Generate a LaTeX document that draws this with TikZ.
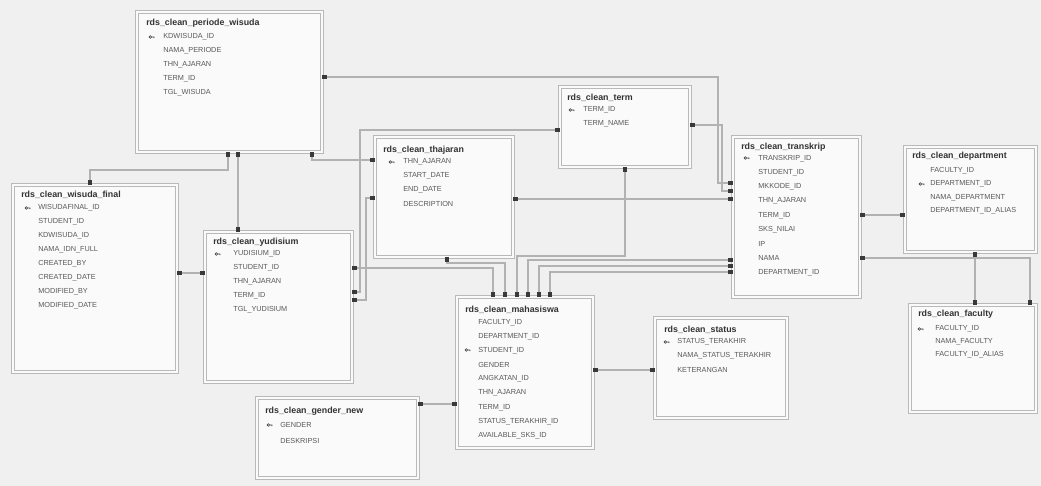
\documentclass[tikz,border=0pt]{standalone}
\usepackage{fontspec}
\setsansfont{Liberation Sans}
\usepackage{tikz}
\usetikzlibrary{arrows.meta,positioning,fit,calc}

\tikzset{
  tbl/.style={draw=gray!55, line width=0.45pt, double=gray!4, double distance=1.4pt, fill=gray!4, inner sep=0pt},
  ttl/.style={anchor=west, inner sep=0pt, font=\sffamily\bfseries\fontsize{6.3}{7}\selectfont, text=black!80},
  fld/.style={anchor=west, inner sep=0pt, font=\sffamily\fontsize{5.2}{6}\selectfont, text=gray!70!black},
  rel/.style={draw=gray!60, line width=0.8pt,
    {Square[length=3pt,width=2.6pt,color=gray!45!black]}-{Square[length=3pt,width=2.6pt,color=gray!45!black]}},
  kunci/.pic={\draw[gray!50!black, line width=0.4pt] (-1.6,0) circle[radius=0.9pt] (-0.4,0) -- (2,0) -- (2,1.2);}
}

\begin{document}
\begin{tikzpicture}[x=0.025cm, y=-0.025cm]

% scanned page
\fill[gray!12] (0,0) rectangle (1041,486);
\useasboundingbox (0,0) rectangle (1041,486);

% rds_clean_periode_wisuda
\node[tbl, fit={(137,12) (322,152)}] (pw) {};
\node[ttl] (pwT) at (146,23) {rds\_clean\_periode\_wisuda};
\foreach \f [count=\i] in {KDWISUDA\_ID, NAMA\_PERIODE, THN\_AJARAN, TERM\_ID, TGL\_WISUDA}
  \node[fld] (pw\i) at (163,23+14*\i) {\f};
\pic at (152,37) {kunci};

% rds_clean_wisuda_final
\node[tbl, fit={(13,185) (177,372)}] (wf) {};
\node[ttl] (wfT) at (21,195) {rds\_clean\_wisuda\_final};
\foreach \f [count=\i] in {WISUDAFINAL\_ID, STUDENT\_ID, KDWISUDA\_ID, NAMA\_IDN\_FULL, CREATED\_BY, CREATED\_DATE, MODIFIED\_BY, MODIFIED\_DATE}
  \node[fld] (wf\i) at (38,194+14*\i) {\f};
\pic at (28,208) {kunci};

% rds_clean_yudisium
\node[tbl, fit={(205,232) (352,382)}] (yu) {};
\node[ttl] (yuT) at (213,242) {rds\_clean\_yudisium};
\foreach \f [count=\i] in {YUDISIUM\_ID, STUDENT\_ID, THN\_AJARAN, TERM\_ID, TGL\_YUDISIUM}
  \node[fld] (yu\i) at (233,240+14*\i) {\f};
\pic at (218,254) {kunci};

% rds_clean_thajaran
\node[tbl, fit={(375,137) (513,257)}] (th) {};
\node[ttl] (thT) at (383,150) {rds\_clean\_thajaran};
\foreach \f [count=\i] in {THN\_AJARAN, START\_DATE, END\_DATE, DESCRIPTION}
  \node[fld] (th\i) at (403,148+14*\i) {\f};
\pic at (392,162) {kunci};

% rds_clean_term
\node[tbl, fit={(560,87) (690,167)}] (te) {};
\node[ttl] (teT) at (567,98) {rds\_clean\_term};
\foreach \f [count=\i] in {TERM\_ID, TERM\_NAME}
  \node[fld] (te\i) at (583,96+14*\i) {\f};
\pic at (572,110) {kunci};

% rds_clean_transkrip
\node[tbl, fit={(733,137) (860,297)}] (tr) {};
\node[ttl] (trT) at (741,147) {rds\_clean\_transkrip};
\foreach \f [count=\i] in {TRANSKRIP\_ID, STUDENT\_ID, MKKODE\_ID, THN\_AJARAN, TERM\_ID, SKS\_NILAI, IP, NAMA, DEPARTMENT\_ID}
  \node[fld] (tr\i) at (758,144+14.3*\i) {\f};
\pic at (747,158) {kunci};

% rds_clean_department
\node[tbl, fit={(905,147) (1036,252)}] (dp) {};
\node[ttl] (dpT) at (912,156) {rds\_clean\_department};
\foreach \f [count=\i] in {FACULTY\_ID, DEPARTMENT\_ID, NAMA\_DEPARTMENT, DEPARTMENT\_ID\_ALIAS}
  \node[fld] (dp\i) at (930,157+13.5*\i) {\f};
\pic at (922,184) {kunci};

% rds_clean_faculty
\node[tbl, fit={(910,305) (1036,412)}] (fa) {};
\node[ttl] (faT) at (918,314) {rds\_clean\_faculty};
\foreach \f [count=\i] in {FACULTY\_ID, NAMA\_FACULTY, FACULTY\_ID\_ALIAS}
  \node[fld] (fa\i) at (935,316+13*\i) {\f};
\pic at (921,329) {kunci};

% rds_clean_mahasiswa
\node[tbl, fit={(457,297) (593,448)}] (mh) {};
\node[ttl] (mhT) at (465,310) {rds\_clean\_mahasiswa};
\foreach \f [count=\i] in {FACULTY\_ID, DEPARTMENT\_ID, STUDENT\_ID, GENDER, ANGKATAN\_ID, THN\_AJARAN, TERM\_ID, STATUS\_TERAKHIR\_ID, AVAILABLE\_SKS\_ID}
  \node[fld] (mh\i) at (478,308+14.2*\i) {\f};
\pic at (468,350) {kunci};

% rds_clean_status
\node[tbl, fit={(655,318) (787,418)}] (st) {};
\node[ttl] (stT) at (664,330) {rds\_clean\_status};
\foreach \f [count=\i] in {STATUS\_TERAKHIR, NAMA\_STATUS\_TERAKHIR, KETERANGAN}
  \node[fld] (st\i) at (677,328+14*\i) {\f};
\pic at (667,342) {kunci};

% rds_clean_gender_new
\node[tbl, fit={(257,398) (418,478)}] (gn) {};
\node[ttl] (gnT) at (265,411) {rds\_clean\_gender\_new};
\foreach \f [count=\i] in {GENDER, DESKRIPSI}
  \node[fld] (gn\i) at (280,409+16*\i) {\f};
\pic at (270,425) {kunci};

% relationships
\draw[rel] (pw.east |- 0,77) -- (718,77) -- (718,183) -- (tr.west |- 0,183);
\draw[rel] (te.east |- 0,125) -- (722,125) -- (722,191) -- (tr.west |- 0,191);
\draw[rel] (th.east |- 0,199) -- (tr.west |- 0,199);
\draw[rel] (pw.south -| 312,0) -- (312,160) -- (th.west |- 0,160);
\draw[rel] (wf.north -| 90,0) -- (90,170) -- (228,170) -- (pw.south -| 228,0);
\draw[rel] (pw.south -| 238,0) -- (yu.north -| 238,0);
\draw[rel] (wf.east |- 0,273) -- (yu.west |- 0,273);
\draw[rel] (yu.east |- 0,292) -- (360,292) -- (360,130) -- (te.west |- 0,130);
\draw[rel] (yu.east |- 0,300) -- (366,300) -- (366,198) -- (th.west |- 0,198);
\draw[rel] (yu.east |- 0,268) -- (493,268) -- (mh.north -| 493,0);
\draw[rel] (th.south -| 447,0) -- (447,263) -- (505,263) -- (mh.north -| 505,0);
\draw[rel] (te.south -| 625,0) -- (625,256) -- (517,256) -- (mh.north -| 517,0);
\draw[rel] (mh.north -| 528,0) -- (528,260) -- (tr.west |- 0,260);
\draw[rel] (mh.north -| 539,0) -- (539,266) -- (tr.west |- 0,266);
\draw[rel] (mh.north -| 550,0) -- (550,272) -- (tr.west |- 0,272);
\draw[rel] (mh.east |- 0,370) -- (st.west |- 0,370);
\draw[rel] (gn.east |- 0,404) -- (mh.west |- 0,404);
\draw[rel] (tr.east |- 0,215) -- (dp.west |- 0,215);
\draw[rel] (dp.south -| 975,0) -- (fa.north -| 975,0);
\draw[rel] (tr.east |- 0,258) -- (1030,258) -- (fa.north -| 1030,0);

\end{tikzpicture}
\end{document}
